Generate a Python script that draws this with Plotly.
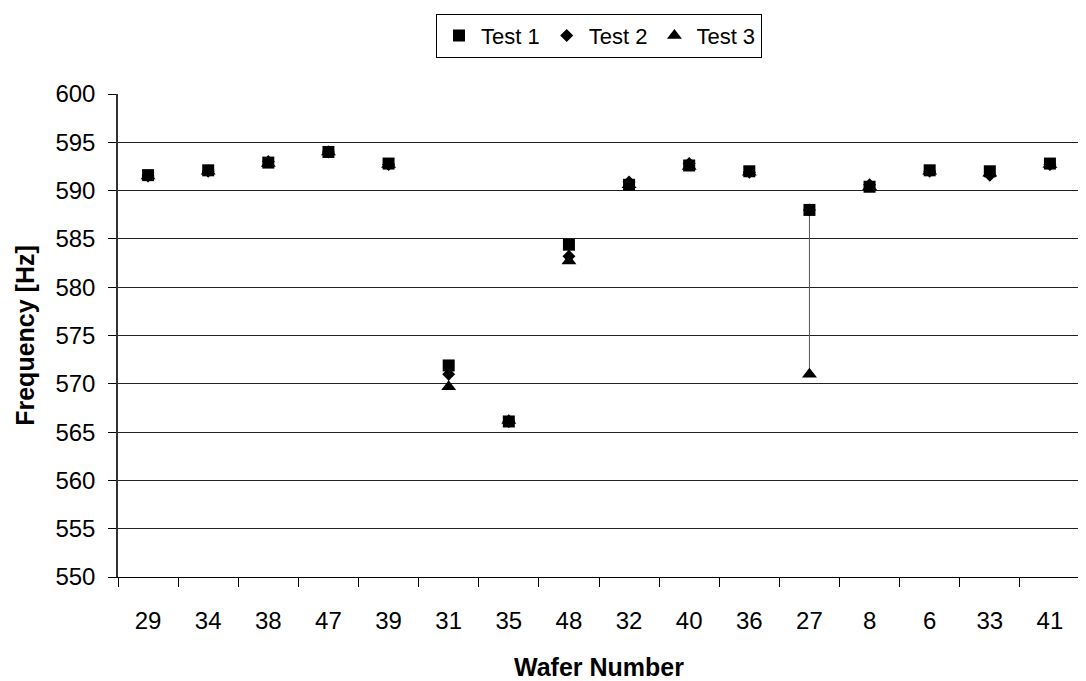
import plotly.graph_objects as go

wafers = ["29", "34", "38", "47", "39", "31", "35", "48", "32", "40", "36", "27", "8", "6", "33", "41"]
test1 = [591.6, 592.1, 592.9, 594.0, 592.8, 571.9, 566.1, 584.4, 590.6, 592.6, 592.0, 588.0, 590.4, 592.1, 592.0, 592.8]
test2 = [591.5, 592.0, 593.0, 594.0, 592.7, 571.0, 566.1, 583.2, 590.9, 592.8, 591.9, 588.0, 590.6, 592.0, 591.6, 592.7]
test3 = [591.5, 592.0, 592.8, 594.0, 592.7, 569.7, 566.2, 582.7, 590.6, 592.5, 591.9, 571.0, 590.4, 592.0, 591.8, 592.7]

fig = go.Figure()

# high-low lines
hx, hy = [], []
for w, a, b, c in zip(wafers, test1, test2, test3):
    hx += [w, w, None]
    hy += [max(a, b, c), min(a, b, c), None]
fig.add_trace(go.Scatter(x=hx, y=hy, mode="lines", line=dict(color="#555555", width=1),
                         showlegend=False, hoverinfo="skip", connectgaps=False))

fig.add_trace(go.Scatter(x=wafers, y=test3, mode="markers", name="Test 3", legendrank=3,
                         marker=dict(symbol="triangle-up", size=13, color="black")))
fig.add_trace(go.Scatter(x=wafers, y=test2, mode="markers", name="Test 2", legendrank=2,
                         marker=dict(symbol="diamond", size=10, color="black")))
fig.add_trace(go.Scatter(x=wafers, y=test1, mode="markers", name="Test 1", legendrank=1,
                         marker=dict(symbol="square", size=12, color="black")))

font = "Liberation Sans, Arial, sans-serif"
fig.update_layout(
    width=1078, height=673,
    margin=dict(l=110, r=6, t=86, b=104),
    paper_bgcolor="white", plot_bgcolor="white",
    font=dict(family=font, size=24, color="black"),
    legend=dict(orientation="h", x=0.5, xanchor="center", y=1.166, yanchor="top",
                bordercolor="black", borderwidth=1, font=dict(size=22),
                itemwidth=34, tracegroupgap=0),
    xaxis=dict(type="category", categoryorder="array", categoryarray=wafers,
               tickson="boundaries", ticks="outside", ticklen=9, tickcolor="black",
               ticklabelstandoff=22, automargin=False,
               showline=True, linecolor="black", linewidth=1, showgrid=False,
               title=dict(text="<b>Wafer Number</b>", font=dict(size=25), standoff=30),
               range=[-0.5, 15.5]),
    yaxis=dict(range=[550, 600], dtick=5, tick0=550, ticks="outside", ticklen=8, tickcolor="black",
               ticklabelstandoff=8, automargin=False,
               showline=True, linecolor="#333333", linewidth=1.5,
               showgrid=True, gridcolor="#222222", gridwidth=1,
               title=dict(text="<b>Frequency [Hz]</b>", font=dict(size=25), standoff=14),
               zeroline=False),
)

fig.write_html("out.html")
